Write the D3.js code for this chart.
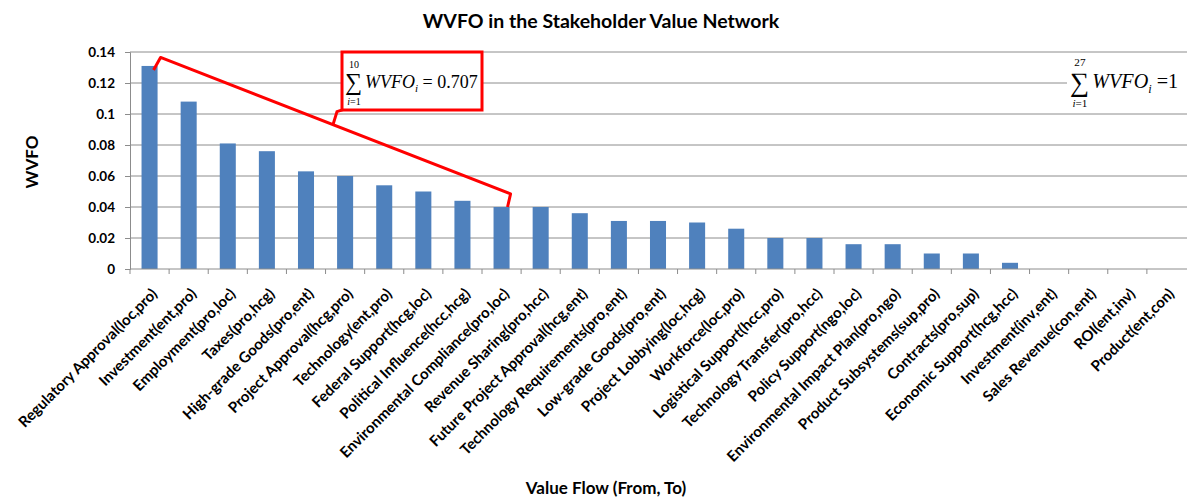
<!DOCTYPE html>
<html>
<head>
<meta charset="utf-8">
<script src="https://cdnjs.cloudflare.com/ajax/libs/d3/7.8.5/d3.min.js"></script>
<style>
  body { margin: 0; background: #fff; }
  text { font-family: Lato, "Open Sans", sans-serif; }
</style>
</head>
<body>
<div id="chart"></div>
<script>
// value flows (from, to), sorted by WVFO
var flows = ["Regulatory Approval(loc,pro)", "Investment(ent,pro)", "Employment(pro,loc)", "Taxes(pro,hcg)",
  "High-grade Goods(pro,ent)", "Project Approval(hcg,pro)", "Technology(ent,pro)", "Federal Support(hcg,loc)",
  "Political Influence(hcc,hcg)", "Environmental Compliance(pro,loc)", "Revenue Sharing(pro,hcc)",
  "Future Project Approval(hcg,ent)", "Technology Requirements(pro,ent)", "Low-grade Goods(pro,ent)",
  "Project Lobbying(loc,hcg)", "Workforce(loc,pro)", "Logistical Support(hcc,pro)", "Technology Transfer(pro,hcc)",
  "Policy Support(ngo,loc)", "Environmental Impact Plan(pro,ngo)", "Product Subsystems(sup,pro)",
  "Contracts(pro,sup)", "Economic Support(hcg,hcc)", "Investment(inv,ent)", "Sales Revenue(con,ent)",
  "ROI(ent,inv)", "Product(ent,con)"];
var wvfo = [0.131, 0.108, 0.081, 0.076, 0.063, 0.060, 0.054, 0.050, 0.044, 0.040, 0.040,
  0.036, 0.031, 0.031, 0.030, 0.026, 0.020, 0.020, 0.016, 0.016, 0.010, 0.010, 0.004, 0, 0, 0, 0];
var yTicks = [0, 0.02, 0.04, 0.06, 0.08, 0.1, 0.12, 0.14];

var width = 1187, height = 501;
var margin = {top: 52, right: 1, bottom: 232, left: 130};

var svg = d3.select("#chart").append("svg")
    .attr("width", width)
    .attr("height", height);

var x = d3.scaleBand()
    .domain(flows)
    .range([margin.left, width - margin.right])
    .paddingInner(0.59)
    .paddingOuter(0.295);

var y = d3.scaleLinear()
    .domain([0, 0.14])
    .range([height - margin.bottom, margin.top]);

// gridlines
svg.append("g")
  .selectAll("line")
  .data(yTicks.slice(1))
  .join("line")
    .attr("x1", margin.left)
    .attr("x2", width)
    .attr("y1", d => y(d))
    .attr("y2", d => y(d))
    .style("stroke", "#8c8c8c")
    .style("stroke-width", 1);

// bars
svg.append("g")
  .selectAll("rect")
  .data(flows)
  .join("rect")
    .attr("x", d => x(d))
    .attr("y", (d, i) => y(wvfo[i]))
    .attr("width", x.bandwidth())
    .attr("height", (d, i) => y(0) - y(wvfo[i]))
    .style("fill", "#4f81bd");

// y axis
var yAxis = svg.append("g")
    .attr("transform", "translate(" + margin.left + ",0)")
    .call(d3.axisLeft(y).tickValues(yTicks).tickFormat(d => d === 0 ? "0" : String(+d.toFixed(2))).tickSize(5).tickPadding(10));
yAxis.selectAll("text")
    .style("font-size", "13.5px")
    .style("font-weight", "bold")
    .style("fill", "#000");
yAxis.selectAll("line, path").style("stroke", "#8c8c8c");

// x axis: ticks at band boundaries
var gap = (x.step() - x.bandwidth()) / 2;
var xa = svg.append("g");
xa.append("line")
    .attr("x1", margin.left).attr("x2", width)
    .attr("y1", y(0)).attr("y2", y(0))
    .style("stroke", "#8c8c8c");
xa.selectAll(".tk")
  .data(flows)
  .join("line")
    .attr("class", "tk")
    .attr("x1", d => x(d) - gap)
    .attr("x2", d => x(d) - gap)
    .attr("y1", y(0))
    .attr("y2", y(0) + 5)
    .style("stroke", "#8c8c8c");
xa.selectAll(".lbl")
  .data(flows)
  .join("text")
    .attr("class", "lbl")
    .attr("transform", d => "translate(" + (x(d) + x.bandwidth() / 2 + 5) + "," + (y(0) + 22) + ") rotate(-45)")
    .attr("text-anchor", "end")
    .attr("dy", "0.35em")
    .style("font-size", "15px")
    .style("font-weight", "bold")
    .text(d => d);

// titles
svg.append("text")
    .attr("x", 601).attr("y", 28)
    .attr("text-anchor", "middle")
    .style("font-size", "19.5px").style("font-weight", "bold")
    .text("WVFO in the Stakeholder Value Network");
svg.append("text")
    .attr("transform", "translate(38,162) rotate(-90)")
    .attr("text-anchor", "middle")
    .style("font-size", "17px").style("font-weight", "bold")
    .text("WVFO");
svg.append("text")
    .attr("x", 606).attr("y", 494)
    .attr("text-anchor", "middle")
    .style("font-size", "17px").style("font-weight", "bold")
    .text("Value Flow (From, To)");

// red bracket over the first ten flows
var c0 = x(flows[0]) + x.bandwidth() / 2, c9 = x(flows[9]) + x.bandwidth() / 2;
var pA = [c0 + 4, y(wvfo[0]) + 4], pB = [c0 + 11, y(0.1365)],
    pC = [c9 + 9, y(0.0485)], pD = [c9 + 6, y(wvfo[9])];
var t = (333 - pB[0]) / (pC[0] - pB[0]);
var pM = [pB[0] + t * (pC[0] - pB[0]), pB[1] + t * (pC[1] - pB[1])];
svg.append("path")
    .attr("d", d3.line()([pA, pB, pC, pD]))
    .style("fill", "none").style("stroke", "#ff0000").style("stroke-width", 3)
    .style("stroke-linejoin", "round");
svg.append("path")
    .attr("d", d3.line()([pM, [pM[0] + 4, pM[1] - 13], [pM[0] + 10, pM[1] - 15]]))
    .style("fill", "none").style("stroke", "#ff0000").style("stroke-width", 3);

function sumFormula(g, upper, rhs, s) {
  var serif = "'Liberation Serif', serif";
  g.append("text").attr("x", -1).attr("y", 22 * s)
      .style("font-family", serif).style("font-size", (24 * s) + "px")
      .text("\u2211");
  g.append("text").attr("x", 8 * s).attr("y", 0).attr("text-anchor", "middle")
      .style("font-family", serif).style("font-size", (10 * s) + "px")
      .text(upper);
  g.append("text").attr("x", 8 * s).attr("y", 37 * s).attr("text-anchor", "middle")
      .style("font-family", serif).style("font-size", (10 * s) + "px")
      .html("<tspan font-style='italic'>i</tspan>=1");
  var tx = g.append("text").attr("x", 19 * s).attr("y", 20 * s)
      .style("font-family", serif).style("font-size", (18 * s) + "px");
  tx.append("tspan").style("font-style", "italic").text("WVFO");
  tx.append("tspan").style("font-style", "italic").style("font-size", (11 * s) + "px").attr("dy", 4 * s).text("i");
  tx.append("tspan").attr("dy", -4 * s).text(rhs);
}

svg.append("rect")
    .attr("x", 342).attr("y", 52).attr("width", 140).attr("height", 58)
    .style("fill", "#fff").style("stroke", "#ff0000").style("stroke-width", 3);
sumFormula(svg.append("g").attr("transform", "translate(346,68)"), "10", " = 0.707", 1);

svg.append("rect")
    .attr("x", 1067).attr("y", 53).attr("width", 120).attr("height", 58)
    .style("fill", "#fff");
sumFormula(svg.append("g").attr("transform", "translate(1071,66)"), "27", " =1", 1.12);
</script>
</body>
</html>
